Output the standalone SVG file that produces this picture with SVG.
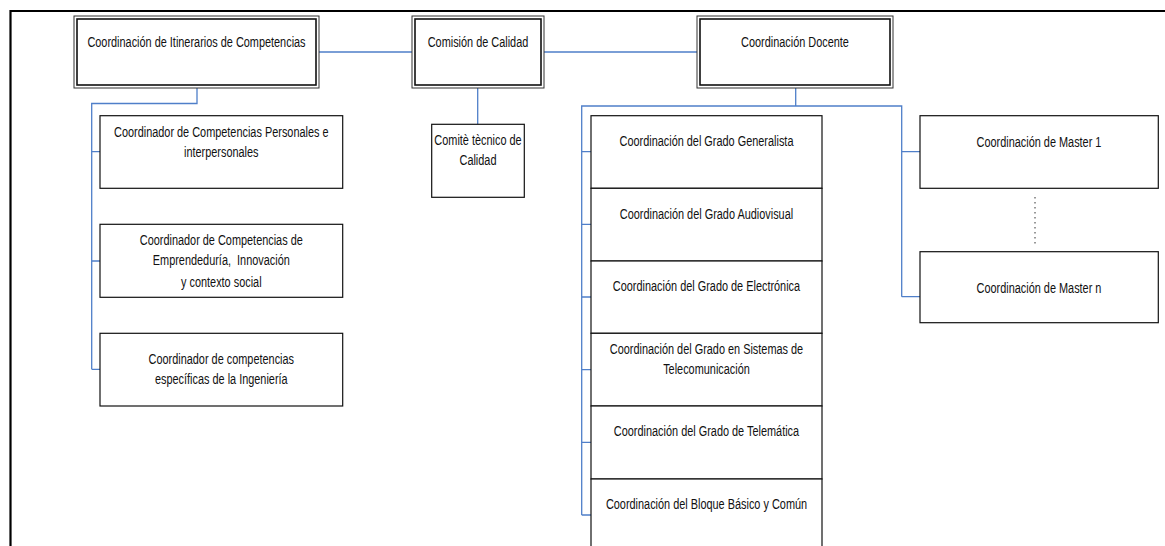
<svg xmlns="http://www.w3.org/2000/svg" width="1165" height="546" viewBox="0 0 1165 546">
<style>
.t{font-family:"Liberation Sans",Arial,sans-serif;font-size:15px;fill:#111;text-anchor:middle}
.b{fill:#fff;stroke:#111;stroke-width:1.2}
.o{fill:#fff;stroke:#333;stroke-width:1}
.i{fill:none;stroke:#111;stroke-width:1.6}
.c{fill:none;stroke:#4f7fc9;stroke-width:1.3}
</style>
<rect width="1165" height="546" fill="#fff"/>
<g id="frame"><path d="M10.5,546 V11 H1165" fill="none" stroke="#000" stroke-width="2.2"/></g>
<g id="connectors">
<path class="c" d="M319,52 H412 M544,52 H697"/>
<path class="c" d="M197,88 V103.5 H91.7 V369.3 M91.7,151.7 H100 M91.7,261 H100 M91.7,369.3 H100"/>
<path class="c" d="M477.7,88 V124.3"/>
<path class="c" d="M795.7,88 V106 H581.7 V515 M581.7,151.7 H591 M581.7,224.3 H591 M581.7,297 H591 M581.7,369.7 H591 M581.7,442.3 H591 M581.7,515 H591 M795.7,106 H901.7 V296.7 M901.7,151.7 H920 M901.7,296.7 H920"/>
</g>
<g id="n-itinerarios">
<rect class="o" x="74" y="16" width="245" height="72"/>
<rect class="i" x="77" y="19" width="239" height="66"/>
<text class="t" transform="scale(0.727,1)" x="270.29" y="47.4">Coordinación de Itinerarios de Competencias</text>
</g>
<g id="n-comision">
<rect class="o" x="412" y="16" width="132" height="72"/>
<rect class="i" x="415" y="19" width="126" height="66"/>
<text class="t" transform="scale(0.727,1)" x="657.5" y="47.4">Comisión de Calidad</text>
</g>
<g id="n-docente">
<rect class="o" x="697" y="16" width="196" height="72"/>
<rect class="i" x="700" y="19" width="190" height="66"/>
<text class="t" transform="scale(0.727,1)" x="1093.53" y="47">Coordinación Docente</text>
</g>
<g id="n-comite">
<rect class="b" x="431.7" y="124.3" width="92.6" height="73"/>
<text class="t" transform="scale(0.727,1)" x="657.5" y="145.4">Comitè tècnico de</text>
<text class="t" transform="scale(0.727,1)" x="657.5" y="165.4">Calidad</text>
</g>
<g id="n-personales">
<rect class="b" x="100" y="115.7" width="242.7" height="72.6"/>
<text class="t" transform="scale(0.727,1)" x="304.4" y="137">Coordinador de Competencias Personales e</text>
<text class="t" transform="scale(0.727,1)" x="304.4" y="157">interpersonales</text>
</g>
<g id="n-emprendeduria">
<rect class="b" x="100" y="224.3" width="242.7" height="73"/>
<text class="t" transform="scale(0.727,1)" x="304.4" y="245.4">Coordinador de Competencias de</text>
<text class="t" transform="scale(0.727,1)" x="304.4" y="265.4" xml:space="preserve">Emprendeduría,  Innovación</text>
<text class="t" transform="scale(0.727,1)" x="304.4" y="287">y contexto social</text>
</g>
<g id="n-ingenieria">
<rect class="b" x="100" y="333.3" width="242.7" height="72.7"/>
<text class="t" transform="scale(0.727,1)" x="304.4" y="363.7">Coordinador de competencias</text>
<text class="t" transform="scale(0.727,1)" x="304.4" y="383.7">específicas de la Ingeniería</text>
</g>
<g id="n-generalista">
<rect class="b" x="591" y="115.7" width="231" height="72.6"/>
<text class="t" transform="scale(0.727,1)" x="971.8" y="146">Coordinación del Grado Generalista</text>
</g>
<g id="n-audiovisual">
<rect class="b" x="591" y="188.3" width="231" height="72.7"/>
<text class="t" transform="scale(0.727,1)" x="971.8" y="218.7">Coordinación del Grado Audiovisual</text>
</g>
<g id="n-electronica">
<rect class="b" x="591" y="261" width="231" height="72.3"/>
<text class="t" transform="scale(0.727,1)" x="971.8" y="291">Coordinación del Grado de Electrónica</text>
</g>
<g id="n-sistemas">
<rect class="b" x="591" y="333.3" width="231" height="72.7"/>
<text class="t" transform="scale(0.727,1)" x="971.8" y="354.4">Coordinación del Grado en Sistemas de</text>
<text class="t" transform="scale(0.727,1)" x="971.8" y="374.4">Telecomunicación</text>
</g>
<g id="n-telematica">
<rect class="b" x="591" y="406" width="231" height="73"/>
<text class="t" transform="scale(0.727,1)" x="971.8" y="436.4">Coordinación del Grado de Telemática</text>
</g>
<g id="n-bloque">
<rect class="b" x="591" y="479" width="231" height="75"/>
<text class="t" transform="scale(0.727,1)" x="971.8" y="508.7">Coordinación del Bloque Básico y Común</text>
</g>
<g id="n-master1">
<rect class="b" x="920" y="115.7" width="238.3" height="72.6"/>
<text class="t" transform="scale(0.727,1)" x="1429.16" y="147">Coordinación de Master 1</text>
</g>
<g id="n-mastern">
<rect class="b" x="920" y="251.7" width="238.3" height="71"/>
<text class="t" transform="scale(0.727,1)" x="1429.16" y="293.4">Coordinación de Master n</text>
</g>
<g id="dots"><path d="M1035,197 V247" stroke="#333" stroke-width="1" stroke-dasharray="1.5,3.5"/></g>
</svg>
